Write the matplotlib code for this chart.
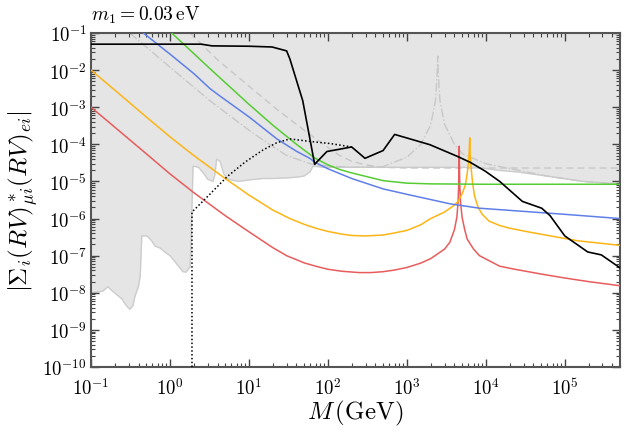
import numpy as np
import matplotlib
matplotlib.use("Agg")
import matplotlib.pyplot as plt
from matplotlib.ticker import FuncFormatter, LogLocator, NullFormatter

plt.rcParams['mathtext.fontset'] = 'cm'
plt.rcParams['font.family'] = ['DejaVu Serif']

# ---- data (M in GeV) ----
shade_M = [0.1, 0.12, 0.14, 0.164, 0.18, 0.21, 0.247, 0.28, 0.31, 0.34, 0.36, 0.40, 0.42, 0.44,
           0.51, 0.58, 0.65, 0.75, 0.86, 1.0, 1.16, 1.3, 1.46, 1.6, 1.7, 1.8, 1.85, 1.96,
           2.3, 2.7, 3.0, 3.5, 3.7, 3.9, 4.3, 4.8, 5.4, 7.3, 10, 15, 20, 30, 40, 50, 59,
           65, 75, 90, 200, 500, 1000, 5000, 9000, 14000, 25000, 59000, 170000, 500000]
shade_low = [1.0e-8, 1.05e-8, 1.1e-8, 1.45e-8, 1.2e-8, 9e-9, 6.8e-9, 4.5e-9, 3.6e-9, 4.5e-9, 8e-9, 1.5e-8, 2.8e-8, 3.4e-7,
             3.4e-7, 2.6e-7, 1.8e-7, 1.6e-7, 1.25e-7, 1.0e-7, 6.8e-8, 5e-8, 3.7e-8, 3.6e-8, 4.3e-8, 5e-8, 2.3e-7, 2.6e-5,
             2.4e-5, 1.6e-5, 1.15e-5, 1.0e-5, 1.5e-5, 4.0e-5, 3.5e-5, 1.6e-5, 1.15e-5, 1.0e-5, 1.1e-5, 1.2e-5, 1.2e-5, 1.25e-5, 1.3e-5, 1.4e-5, 1.8e-5,
             2.6e-5, 2.5e-5, 2.4e-5, 2.4e-5, 2.4e-5, 2.4e-5, 2.4e-5, 2.3e-5, 2.0e-5, 1.8e-5, 1.4e-5, 1.0e-5, 8.5e-6]

dash_M = [1.8, 4.0, 10, 22.4, 50, 100, 141, 200, 300, 500, 1000, 500000]
dash_y = [1e-1, 1.9e-2, 3.7e-3, 8.9e-4, 2.4e-4, 8.2e-5, 5.0e-5, 3.5e-5, 2.8e-5, 2.4e-5, 2.3e-5, 2.3e-5]

dashdot_M = [0.31, 1, 3.2, 10, 16, 30, 60, 100, 200, 500, 1000, 1500, 2000, 2300, 2420, 2460,
             2500, 2620, 3000, 4000, 5100, 10000, 14000, 59000, 170000, 500000]
dashdot_y = [1e-1, 1.2e-2, 1.5e-3, 2.4e-4, 1.2e-4, 5e-5, 3e-5, 2.6e-5, 2.4e-5, 2.5e-5, 4.5e-5, 1e-4, 3.3e-4, 1.5e-3, 8e-3, 2.4e-2,
             8e-3, 1.5e-3, 3.5e-4, 1e-4, 5.5e-5, 3e-5, 2.6e-5, 1.4e-5, 1e-5, 8.5e-6]

red_M = [0.1, 0.2, 0.5, 1, 2, 5, 10, 20, 30, 50, 70, 100, 150, 250, 350, 500, 700, 1000, 1500, 2000,
         3000, 3500, 4000, 4300, 4450, 4530, 4570, 4600, 4630, 4680, 4780, 5000, 5400, 5800, 7000, 8300,
         15000, 22000, 50000, 100000, 200000, 500000]
red_y = [1e-3, 2.9e-4, 5.6e-5, 1.6e-5, 5.0e-6, 1.2e-6, 4.4e-7, 1.65e-7, 1.0e-7, 6.4e-8, 5.2e-8, 4.3e-8, 3.8e-8, 3.5e-8, 3.5e-8, 3.7e-8, 4.1e-8, 4.8e-8, 6.3e-8, 8.3e-8,
         1.5e-7, 2.3e-7, 5e-7, 1.1e-6, 2.8e-6, 8e-6, 2.5e-5, 8.9e-5, 2.5e-5, 8e-6, 2.8e-6, 1.1e-6, 5e-7, 2.8e-7, 1.5e-7, 1.0e-7,
         5.2e-8, 4.4e-8, 3.2e-8, 2.5e-8, 2.0e-8, 1.55e-8]

orange_M = [0.1, 0.2, 0.5, 1, 2, 5, 10, 20, 33, 50, 70, 100, 150, 200, 300, 500, 700, 1000, 1500, 2000,
            3000, 4000, 4500, 5000, 5500, 5800, 6000, 6150, 6250, 6350, 6500, 6800, 7200, 8000, 9000,
            11000, 15000, 20000, 36000, 100000, 150000, 500000]
orange_y = [1e-2, 2.9e-3, 5.5e-4, 1.6e-4, 5e-5, 1.2e-5, 4.3e-6, 1.7e-6, 1e-6, 7e-7, 5.5e-7, 4.5e-7, 3.8e-7, 3.5e-7, 3.4e-7, 3.6e-7, 4.1e-7, 4.8e-7, 6.8e-7, 1e-6,
            1.5e-6, 2.3e-6, 3e-6, 4.6e-6, 8e-6, 1.6e-5, 3e-5, 6e-5, 1.5e-4, 5e-5, 2.4e-5, 9e-6, 4e-6, 2e-6, 1.3e-6,
            8.5e-7, 6.5e-7, 5.5e-7, 4.3e-7, 2.9e-7, 2.5e-7, 1.9e-7]

blue_M = [0.46, 1, 2, 3.2, 4.3, 10, 22.6, 40, 59, 68, 100, 200, 500, 1000, 3500, 8300, 100000, 500000]
blue_y = [1e-1, 2.7e-2, 8.1e-3, 3.2e-3, 2e-3, 5.5e-4, 1.4e-4, 6.5e-5, 4.2e-5, 3.3e-5, 2.2e-5, 1.2e-5, 6.3e-6, 4.5e-6, 2.5e-6, 1.9e-6, 1.3e-6, 1e-6]

green_M = [1.05, 2, 3.2, 4.3, 10, 20, 40, 68, 100, 141, 200, 500, 1000, 2000, 10000, 500000]
green_y = [1e-1, 2.8e-2, 1.1e-2, 6.2e-3, 1.2e-3, 3.3e-4, 1e-4, 4.3e-5, 2.8e-5, 2.1e-5, 1.7e-5, 1.05e-5, 9e-6, 8.6e-6, 8.4e-6, 8.4e-6]

black_M = [0.1, 2.5, 3.4, 10, 19.6, 30, 33, 48, 68, 97, 141, 200, 295, 500, 700, 1950, 4300, 6300, 9800,
           15000, 29000, 51000, 65000, 100000, 195000, 290000, 500000]
black_y = [5e-2, 5e-2, 4.5e-2, 4.4e-2, 4.2e-2, 3.3e-2, 2e-2, 1.5e-3, 2.9e-5, 6.4e-5, 7.4e-5, 8.5e-5, 4.2e-5, 6.8e-5, 1.85e-4, 9.8e-5, 4.8e-5, 3.3e-5, 1.9e-5,
           1e-5, 2.9e-6, 1.9e-6, 1.2e-6, 3.4e-7, 1.26e-7, 1.05e-7, 4.7e-8]

dotted_M = [1.9, 1.9, 2.8, 5.3, 8.9, 15, 22.4, 33, 59, 107, 200]
dotted_y = [1e-10, 1.5e-6, 3.4e-6, 1.35e-5, 3.3e-5, 7e-5, 1.1e-4, 1.4e-4, 1.2e-4, 1.05e-4, 8.5e-5]

fig = plt.figure(figsize=(6.31, 4.35), dpi=100)
ax = fig.add_axes([91/631, 1-368/435, 529/631, 334/435])

ax.fill_between(shade_M, shade_low, 1e-1, color='#e5e5e5', lw=0, zorder=0)
ax.plot(shade_M, shade_low, color='#cccccc', lw=1.0, zorder=1)
ax.plot(dash_M, dash_y, color='#c8c8c8', lw=1.0, ls=(0, (5, 3)), zorder=1)
ax.plot(dashdot_M, dashdot_y, color='#c8c8c8', lw=1.0, ls='-.', zorder=1)

ax.plot(red_M, red_y, color='#e85c5c', lw=1.1, zorder=3)
ax.plot(orange_M, orange_y, color='#fdb515', lw=1.1, zorder=3)
ax.plot(blue_M, blue_y, color='#5f7fe8', lw=1.1, zorder=3)
ax.plot(green_M, green_y, color='#55cc33', lw=1.1, zorder=3)
ax.plot(black_M, black_y, color='black', lw=1.2, zorder=4)
ax.plot(dotted_M, dotted_y, color='black', lw=1.1, ls=(0, (1, 1.5)), zorder=4)

ax.set_xscale('log')
ax.set_yscale('log')
ax.set_xlim(0.1, 5e5)
ax.set_ylim(1e-10, 1e-1)

fmt = FuncFormatter(lambda v, _: r'$10^{%d}$' % int(round(np.log10(v))))
ax.xaxis.set_major_locator(LogLocator(base=10, numticks=20))
ax.yaxis.set_major_locator(LogLocator(base=10, numticks=20))
ax.xaxis.set_minor_locator(LogLocator(base=10, subs=np.arange(2, 10), numticks=20))
ax.yaxis.set_minor_locator(LogLocator(base=10, subs=np.arange(2, 10), numticks=20))
ax.xaxis.set_major_formatter(fmt)
ax.yaxis.set_major_formatter(fmt)
ax.xaxis.set_minor_formatter(NullFormatter())
ax.yaxis.set_minor_formatter(NullFormatter())
ax.tick_params(which='both', direction='in', top=True, right=True, colors='#444444',
               labelcolor='black', labelsize=13.5)
ax.tick_params(which='major', length=6, width=1.0)
ax.tick_params(axis='x', which='major', pad=7)
ax.tick_params(axis='y', which='major', pad=3)
ax.tick_params(which='minor', length=3, width=0.8)
for s in ax.spines.values():
    s.set_color('#555555')
    s.set_linewidth(1.5)

ax.set_xlabel(r'$M\,(\mathrm{GeV})$', fontsize=18, labelpad=0)
ax.set_ylabel(r'$|\Sigma_i(RV)^*_{\mu i}(RV)_{ei}|$', fontsize=18, labelpad=2)
ax.text(0.0, 1.025, r'$m_1 = 0.03\,\mathrm{eV}$', transform=ax.transAxes, fontsize=14,
        ha='left', va='bottom')

fig.savefig('out.png', dpi=100)
